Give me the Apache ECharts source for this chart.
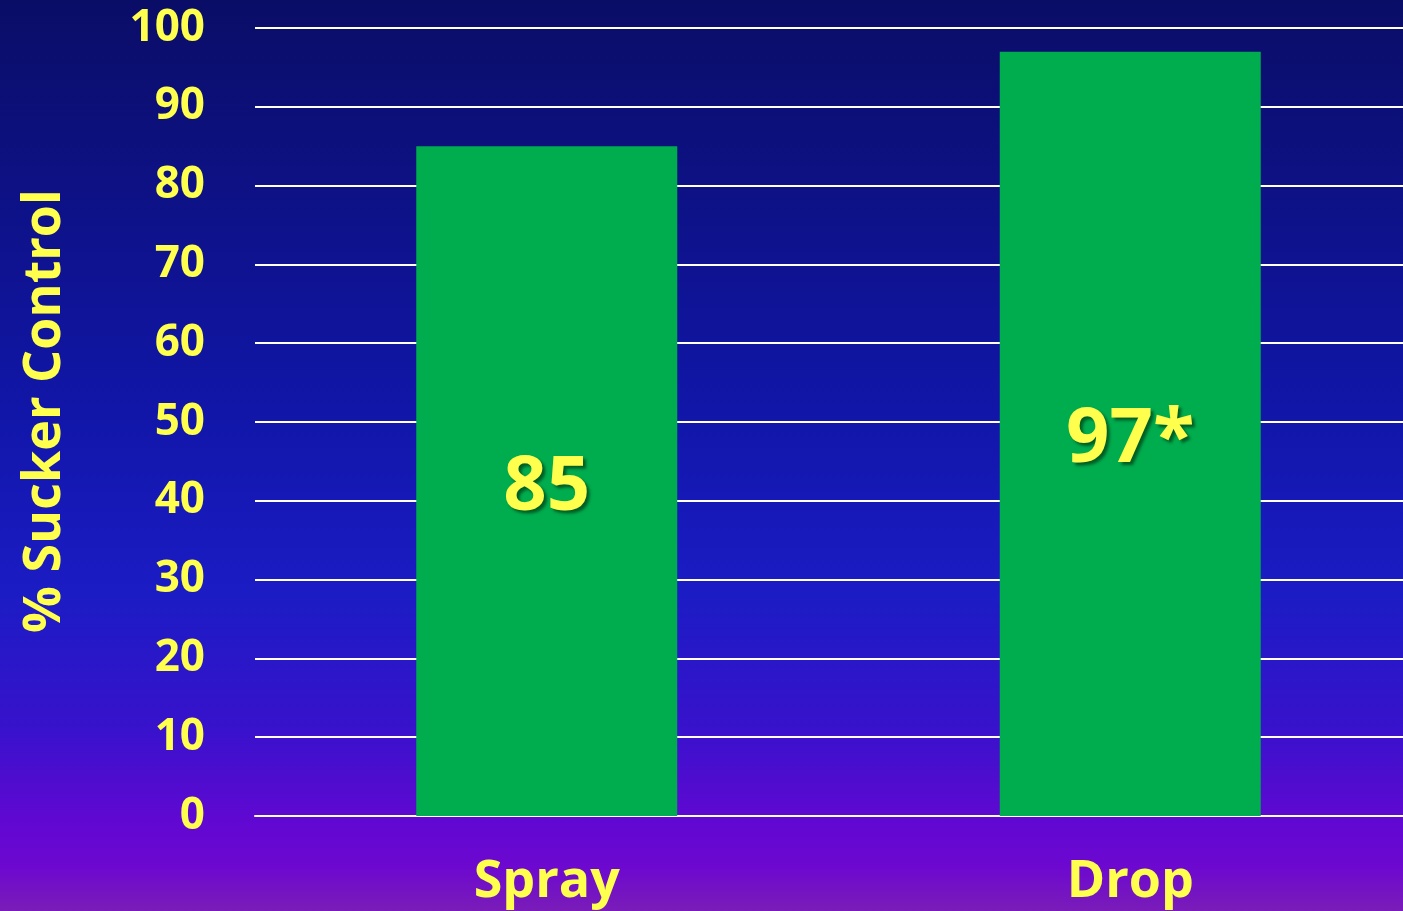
<!DOCTYPE html>
<html>
<head>
<meta charset="utf-8">
<script src="https://cdn.jsdelivr.net/npm/echarts@6/dist/echarts.min.js"></script>
<style>
  html, body { margin: 0; padding: 0; }
  #main { width: 1403px; height: 911px; }
</style>
</head>
<body>
<div id="main"></div>
<script>
// 数据
var categories = ['Spray', 'Drop'];
var values = [85, 97];
var labels = ['85', '97*'];
var yTicks = [0, 10, 20, 30, 40, 50, 60, 70, 80, 90, 100];

var yellow = '#ffff4d';
var font = 'Open Sans';

var chart = echarts.init(document.getElementById('main'));

var option = {
    // 背景渐变: 深蓝 -> 紫
    backgroundColor: new echarts.graphic.LinearGradient(0, 0, 0, 1, [
        { offset: 0, color: '#0a0d66' },
        { offset: 0.45, color: '#1116a8' },
        { offset: 0.65, color: '#1b1cc4' },
        { offset: 0.8, color: '#3812cc' },
        { offset: 0.9, color: '#6008d2' },
        { offset: 0.95, color: '#6c08d0' },
        { offset: 1, color: '#7a1cb8' }
    ]),
    // 网格稍微超出右边界, 让两根柱子的位置对上
    grid: {
        left: 255,
        right: -19,
        top: 28,
        bottom: 95,
        outerBoundsMode: 'none'
    },
    xAxis: {
        type: 'category',
        data: categories,
        axisLine: { show: true, lineStyle: { color: '#ffffff', width: 2 } },
        axisTick: { show: false },
        axisLabel: {
            color: yellow,
            fontFamily: font,
            fontWeight: 'bold',
            fontSize: 52,
            margin: 40
        }
    },
    yAxis: {
        type: 'value',
        min: yTicks[0],
        max: yTicks[yTicks.length - 1],
        interval: 10,
        name: '% Sucker Control',
        nameLocation: 'middle',
        nameGap: 184,
        nameTextStyle: {
            color: yellow,
            fontFamily: font,
            fontWeight: 'bold',
            fontSize: 52,
            padding: [0, 0, 0, 22]
        },
        axisLine: { show: false },
        axisTick: { show: false },
        splitLine: { lineStyle: { color: '#ffffff', width: 2 } },
        axisLabel: {
            color: yellow,
            fontFamily: font,
            fontWeight: 'bold',
            fontSize: 44,
            margin: 50
        }
    },
    series: [{
        type: 'bar',
        data: values,
        barWidth: 261,
        itemStyle: { color: '#00ad4e' },
        label: {
            show: true,
            position: 'inside',
            offset: [0, 7],
            formatter: function (p) { return labels[p.dataIndex]; },
            color: yellow,
            fontFamily: font,
            fontWeight: 'bold',
            fontSize: 76,
            textShadowColor: 'rgba(0,60,20,0.7)',
            textShadowOffsetX: 3,
            textShadowOffsetY: 3,
            textShadowBlur: 3
        }
    }]
};

chart.setOption(option);
</script>
</body>
</html>
